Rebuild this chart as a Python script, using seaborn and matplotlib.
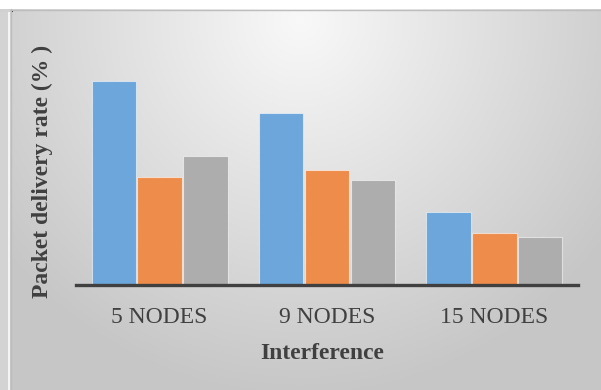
import numpy as np
import pandas as pd
import matplotlib
matplotlib.use("Agg")
import matplotlib.pyplot as plt
from matplotlib.patches import Rectangle
import seaborn as sns

# Packet delivery rate per network size and scheme
categories = ["5 NODES", "9 NODES", "15 NODES"]
series = ["Scheme 1", "Scheme 2", "Scheme 3"]
scheme1 = [77.0, 64.9, 27.5]
scheme2 = [40.8, 43.4, 19.6]
scheme3 = [48.7, 39.6, 18.1]
colors = ["#6CA6DA", "#EE8D4B", "#ADADAD"]

df = pd.DataFrame({
    "Interference": categories * 3,
    "Scheme": [s for s in series for _ in categories],
    "Rate": scheme1 + scheme2 + scheme3,
})

sns.set_theme(style="white")
plt.rcParams["font.family"] = ["Liberation Serif", "DejaVu Serif"]

W, H = 601, 390
fig = plt.figure(figsize=(W / 100, H / 100), dpi=100)
fig.patch.set_facecolor("white")

# Soft radial-gradient panel behind the chart, with a grey strip on the left
bg = fig.add_axes([0, 0, 1, 1], zorder=0)
yy, xx = np.mgrid[0:H, 0:W]
d = np.sqrt(((xx - 300) / 420.0) ** 2 + ((yy - 20) / 420.0) ** 2)
shade = np.clip(0.975 - 0.22 * d, 0.78, 0.975)
shade[:9, :] = 1.0
shade[12:, :8] = 0.83
shade[12:, 8:10] = 0.96
img = np.dstack([shade] * 3)
bg.imshow(img, extent=(0, W, H, 0), aspect="auto", interpolation="nearest")
bg.set_xlim(0, W)
bg.set_ylim(H, 0)
bg.axis("off")
bg.plot([10.5, 10.5], [9, H], color="#bdbdbd", lw=1.0)
bg.plot([10, W], [9.5, 9.5], color="#bdbdbd", lw=1.0)
bg.add_patch(Rectangle((11, 10), 2, 2, color="black", lw=0))

ax = fig.add_axes([76 / W, 1 - 285 / H, (578 - 76) / W, (285 - 20) / H], zorder=1)
ax.patch.set_alpha(0)

sns.barplot(
    data=df, x="Interference", y="Rate", hue="Scheme",
    palette=colors, saturation=1, width=0.82, gap=0.03, legend=False,
    edgecolor=(1, 1, 1, 0.55), linewidth=0.8, ax=ax, errorbar=None,
)

ax.set_xlim(-0.5, 2.5)
ax.set_ylim(0, 100)
ax.set_yticks([])
for s in ["top", "right", "left"]:
    ax.spines[s].set_visible(False)
ax.spines["bottom"].set_color("#404040")
ax.spines["bottom"].set_linewidth(2.4)
ax.tick_params(axis="x", length=0, pad=16, labelsize=17, colors="#404040")

ax.set_xlabel("Interference", fontsize=17, fontweight="bold", color="#404040")
ax.xaxis.set_label_coords(0.49, -0.22)
ax.set_ylabel("Packet delivery rate (% )", fontsize=17, fontweight="bold", color="#404040")
ax.yaxis.set_label_coords(-0.046, 0.43)

fig.savefig("out.png", dpi=100)
